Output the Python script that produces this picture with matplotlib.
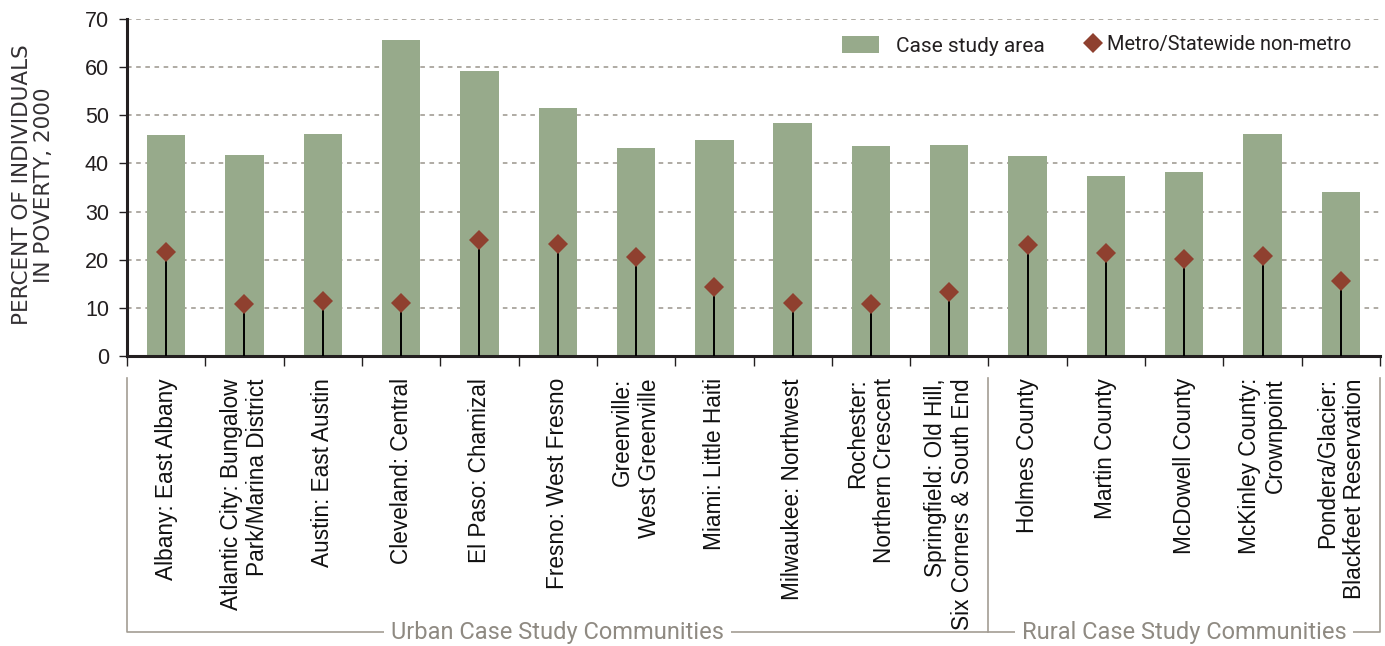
import numpy as np
import matplotlib
matplotlib.use('Agg')
import matplotlib.pyplot as plt
from matplotlib.patches import Patch
from matplotlib.lines import Line2D

# data
places = ['Albany: East Albany', 'Atlantic City: Bungalow\nPark/Marina District',
          'Austin: East Austin', 'Cleveland: Central', 'El Paso: Chamizal',
          'Fresno: West Fresno', 'Greenville:\nWest Greenville', 'Miami: Little Haiti',
          'Milwaukee: Northwest', 'Rochester:\nNorthern Crescent',
          'Springfield: Old Hill,\nSix Corners & South End',
          'Holmes County', 'Martin County', 'McDowell County',
          'McKinley County:\nCrownpoint', 'Pondera/Glacier:\nBlackfeet Reservation']
case_area = [45.9, 41.8, 46.1, 65.6, 59.2, 51.6, 43.2, 44.9,
             48.3, 43.6, 43.8, 41.5, 37.4, 38.2, 46.1, 34.1]
metro = [21.7, 10.8, 11.4, 11.1, 24.1, 23.2, 20.5, 14.3,
         11.0, 10.8, 13.3, 23.1, 21.4, 20.1, 20.8, 15.6]
groups = ['Urban Case Study Communities', 'Rural Case Study Communities']
n_urban = 11

green = '#97aa8b'
red = '#8f402f'
dark = '#231f20'
grey = '#8f8a82'

plt.rcParams['font.family'] = ['Liberation Sans', 'DejaVu Sans']
roboto = ['Roboto', 'DejaVu Sans']

fig = plt.figure(figsize=(13.85, 6.46), dpi=100)
ax = fig.add_axes([127 / 1385, 1 - 356 / 646, 1253 / 1385, 337 / 646])

x = np.arange(len(places))
ax.bar(x, case_area, width=0.49, color=green, zorder=2)
ax.vlines(x, 0, metro, color='black', lw=1.4, zorder=3)
ax.plot(x, metro, 'D', color=red, ms=10, mew=0, zorder=4)

ax.set_xlim(-0.5, len(places) - 0.5)
ax.set_ylim(0, 70)
ax.set_yticks(range(0, 71, 10))
for y in range(10, 71, 10):
    ax.axhline(y, color='#9a948b', lw=1.1, ls=(0, (3, 3)), zorder=1)

for s in ['top', 'right']:
    ax.spines[s].set_visible(False)
for s in ['left', 'bottom']:
    ax.spines[s].set_linewidth(2.2)
    ax.spines[s].set_color(dark)

ax.tick_params(axis='y', length=6, width=1, color=dark, labelsize=15.5,
               labelcolor=dark, pad=7)
ax.set_xticks(x)
ax.set_xticklabels(places, rotation=90, ha='center', va='top',
                   multialignment='right', fontsize=16.3, color='#111111')
ax.tick_params(axis='x', which='major', length=0, pad=16)
ax.set_xticks(np.arange(-0.5, len(places), 1), minor=True)
ax.tick_params(axis='x', which='minor', length=7, width=1, color=dark)

# group brackets under the labels
tr = ax.get_xaxis_transform()
yb_top, yb_bot = -0.065, -0.819
left, mid, right = -0.5, n_urban - 0.5, len(places) - 0.5
ax.plot([left, left, right, right], [yb_top, yb_bot, yb_bot, yb_top],
        transform=tr, clip_on=False, color='#a39d94', lw=1.2)
ax.plot([mid, mid], [yb_top, yb_bot], transform=tr, clip_on=False,
        color='#a39d94', lw=1.2)
for label, cx in zip(groups, [5.0, 13.0]):
    ax.text(cx, yb_bot, label, transform=tr, ha='center', va='center',
            fontsize=17, color=grey, family=roboto,
            bbox=dict(facecolor='white', edgecolor='none', pad=5))

fig.text(33 / 1385, 1 - 185 / 646, 'PERCENT OF INDIVIDUALS\nIN POVERTY, 2000',
         rotation=90, ha='center', va='center', multialignment='center',
         fontsize=15.5, color='#333033', linespacing=1.15, family=['DejaVu Sans'])

# two legends so the diamond can sit close to its text, as in the reference
leg1 = ax.legend([Patch(facecolor=green, edgecolor='none')], ['Case study area'],
                 frameon=False, loc='upper left', bbox_to_anchor=(0.556, 1.005),
                 handlelength=1.75, handleheight=0.85, handletextpad=0.8,
                 prop={'family': roboto, 'size': 15})
ax.add_artist(leg1)
leg2 = ax.legend([Line2D([], [], marker='D', color=red, ls='none', ms=10, mew=0)],
                 ['Metro/Statewide non-metro'],
                 frameon=False, loc='upper left', bbox_to_anchor=(0.749, 1.005),
                 handlelength=1.0, handletextpad=0.2,
                 prop={'family': roboto, 'size': 14.3})
for lg in (leg1, leg2):
    for t in lg.get_texts():
        t.set_color(dark)

fig.savefig('out.png', dpi=100)
